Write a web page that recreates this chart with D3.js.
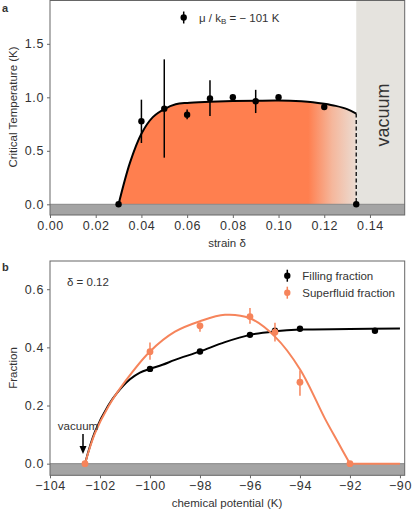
<!DOCTYPE html>
<html><head><meta charset="utf-8">
<script src="https://cdn.jsdelivr.net/npm/d3@7"></script>
<style>
body{margin:0;background:#fff;}
text{font-family:"Liberation Sans",Arial,sans-serif;fill:#333;}
</style></head>
<body><svg id="c" width="412" height="511"></svg>
<script>
// ---------- Panel a data ----------
const strainPts = [0.03, 0.04, 0.05, 0.06, 0.07, 0.08, 0.09, 0.10, 0.12, 0.134];
const tcVals    = [0.0, 0.776, 0.894, 0.838, 0.99, 1.0, 0.963, 1.0, 0.91, 0.0];
const tcErrLo   = [0, 0.573, 0.436, 0.794, 0.825, 1.0, 0.853, 1.0, 0.91, 0];
const tcErrHi   = [0, 0.978, 1.355, 0.885, 1.16, 1.0, 1.07, 1.0, 0.91, 0];
const tcCurveX  = [0.03, 0.035, 0.04, 0.045, 0.05, 0.055, 0.06, 0.07, 0.08, 0.09, 0.10, 0.11, 0.115, 0.12, 0.125, 0.13, 0.134];
const tcCurveY  = [0.0, 0.39, 0.66, 0.815, 0.89, 0.935, 0.948, 0.958, 0.965, 0.968, 0.97, 0.963, 0.955, 0.94, 0.92, 0.89, 0.848];
const strainTicks = [0.00, 0.02, 0.04, 0.06, 0.08, 0.10, 0.12, 0.14];
const tcTicks = [0.0, 0.5, 1.0, 1.5];
const vacuumStrain = 0.134;

// ---------- Panel b data ----------
const muFill   = [-100, -98, -96, -95, -94, -91];
const fillVals = [0.326, 0.386, 0.443, 0.457, 0.464, 0.457];
const muSF     = [-102.6, -100, -98, -96, -95, -94, -92];
const sfVals   = [0.0, 0.385, 0.474, 0.506, 0.452, 0.28, 0.0];
const sfErrLo  = [0.0, 0.357, 0.454, 0.481, 0.42, 0.234, 0.0];
const sfErrHi  = [0.0, 0.417, 0.485, 0.535, 0.485, 0.32, 0.0];
const fillCurveX = [-102.6, -102.2, -101.67, -101.3, -100.8, -100.4, -100, -99.5, -99, -98, -97, -96, -95, -94, -92, -90];
const fillCurveY = [0.0, 0.11, 0.2, 0.245, 0.29, 0.313, 0.326, 0.34, 0.357, 0.386, 0.418, 0.443, 0.455, 0.461, 0.463, 0.465];
const sfCurveX = [-102.6, -102.2, -101.67, -101, -100, -99, -98, -97, -96, -95, -94, -93, -92.5, -92];
const sfCurveY = [0.0, 0.105, 0.196, 0.282, 0.386, 0.454, 0.49, 0.512, 0.5, 0.437, 0.325, 0.155, 0.077, 0.0];
const sfTailX = [-92, -90];
const sfTailY = [0.0, 0.0];
const muTicks = [-104, -102, -100, -98, -96, -94, -92, -90];
const fracTicks = [0.0, 0.2, 0.4, 0.6];

const svg = d3.select("#c");
const defs = svg.append("defs");
const ORANGE = "#f6845b", FILLC = "#ff7f4f", GRAYBAND = "#a4a4a4", VAC = "#e5e3de", FRAME = "#666";
const FS = 12.5;

function minusFmt(v, dec){ const s = Math.abs(v).toFixed(dec); return (v<0?"\u2212":"") + s; }

function axes(g, x, y, xt, yt, xdec, ydec, W, H){
  const style = a=>{a.select(".domain").remove(); a.selectAll("line").attr("stroke",FRAME);
      a.selectAll("text").attr("font-size",FS).attr("fill","#333").attr("letter-spacing","0.6px").attr("font-family","Liberation Sans, Arial, sans-serif");};
  g.append("g").attr("transform",`translate(0,${H})`)
    .call(d3.axisBottom(x).tickValues(xt).tickSize(3).tickPadding(3).tickFormat(d=>minusFmt(d,xdec)))
    .call(style);
  g.append("g")
    .call(d3.axisLeft(y).tickValues(yt).tickSize(3).tickPadding(3).tickFormat(d=>minusFmt(d,ydec)))
    .call(style);
  g.append("rect").attr("width",W).attr("height",H).attr("fill","none").attr("stroke",FRAME).attr("stroke-width",1);
}

// ================= Panel a =================
{
  const L=50, T=0.5, W=354.7, H=214.5;
  const g = svg.append("g").attr("transform",`translate(${L},${T})`);
  const x = d3.scaleLinear().domain([0,0.1552]).range([0,W]);
  const y = d3.scaleLinear().domain([-0.1,1.905]).range([H,0]);

  g.append("rect").attr("x",x(vacuumStrain)).attr("y",0).attr("width",W-x(vacuumStrain)).attr("height",y(0)).attr("fill",VAC);
  const grad = defs.append("linearGradient").attr("id","tcgrad").attr("gradientUnits","userSpaceOnUse")
    .attr("x1",x(0.03)).attr("x2",x(vacuumStrain)).attr("y1",0).attr("y2",0);
  const f0 = (0.113-0.03)/(vacuumStrain-0.03);
  grad.append("stop").attr("offset",0).attr("stop-color",FILLC);
  grad.append("stop").attr("offset",f0).attr("stop-color",FILLC);
  grad.append("stop").attr("offset",f0+0.5*(1-f0)).attr("stop-color","#f5b79c");
  grad.append("stop").attr("offset",1).attr("stop-color","#ebdcd2");
  const curvePts = tcCurveX.map((v,i)=>[v,tcCurveY[i]]);
  const cv = d3.curveCatmullRom.alpha(0.5);
  g.append("path").datum(curvePts)
    .attr("d",d3.area().x(d=>x(d[0])).y0(y(0)).y1(d=>y(d[1])).curve(cv))
    .attr("fill","url(#tcgrad)");
  g.append("rect").attr("x",0).attr("y",y(0)).attr("width",W).attr("height",y(-0.1)-y(0)).attr("fill",GRAYBAND);
  g.append("line").attr("x1",0).attr("x2",W).attr("y1",y(0)).attr("y2",y(0)).attr("stroke","#888").attr("stroke-width",1);
  g.append("path").datum(curvePts)
    .attr("d",d3.line().x(d=>x(d[0])).y(d=>y(d[1])).curve(cv))
    .attr("fill","none").attr("stroke","#000").attr("stroke-width",2);
  g.append("line").attr("x1",x(vacuumStrain)).attr("x2",x(vacuumStrain))
    .attr("y1",y(tcCurveY[tcCurveY.length-1])).attr("y2",y(0))
    .attr("stroke","#222").attr("stroke-width",1.5).attr("stroke-dasharray","4,2.5");
  strainPts.forEach((s,i)=>{
    if (tcErrHi[i]>tcErrLo[i]) g.append("line").attr("x1",x(s)).attr("x2",x(s)).attr("y1",y(tcErrLo[i])).attr("y2",y(tcErrHi[i])).attr("stroke","#000").attr("stroke-width",1.5);
    g.append("circle").attr("cx",x(s)).attr("cy",y(tcVals[i])).attr("r",3.2).attr("fill","#000");
  });
  axes(g,x,y,strainTicks,tcTicks,2,1,W,H);
  g.append("text").attr("transform",`translate(${389-L},${114.5}) rotate(-90)`).attr("text-anchor","middle")
    .attr("font-size",18).attr("fill","#222").text("vacuum");
  g.append("line").attr("x1",183.7-L).attr("x2",183.7-L).attr("y1",11).attr("y2",23).attr("stroke","#000").attr("stroke-width",1.5);
  g.append("circle").attr("cx",183.7-L).attr("cy",17).attr("r",3.2).attr("fill","#000");
  const lt = g.append("text").attr("x",199-L).attr("y",21).attr("font-size",11.5).attr("fill","#333");
  lt.append("tspan").text("\u03bc / k");
  lt.append("tspan").attr("font-size",8).attr("dy",2).text("B");
  lt.append("tspan").attr("dy",-2).text(" = \u2212 101 K");
  svg.append("text").attr("transform",`translate(17,${107}) rotate(-90)`).attr("text-anchor","middle")
    .attr("font-size",11.5).text("Critical Temperature (K)");
  svg.append("text").attr("x",227).attr("y",247).attr("text-anchor","middle").attr("font-size",11.5).text("strain \u03b4");
  svg.append("text").attr("x",2).attr("y",12).attr("font-size",11).attr("font-weight","bold").attr("fill","#000").text("a");
}

// ================= Panel b =================
{
  const L=50, T=261, W=354.7, H=214.3;
  const g = svg.append("g").attr("transform",`translate(${L},${T})`);
  const x = d3.scaleLinear().domain([-104,-89.81]).range([0,W]);
  const y = d3.scaleLinear().domain([-0.04,0.697]).range([H,0]);

  g.append("rect").attr("x",0).attr("y",y(0)).attr("width",W).attr("height",y(-0.04)-y(0)).attr("fill",GRAYBAND);
  g.append("line").attr("x1",0).attr("x2",W).attr("y1",y(0)).attr("y2",y(0)).attr("stroke","#888").attr("stroke-width",1);

  const line = d3.line().x(d=>x(d[0])).y(d=>y(d[1])).curve(d3.curveCatmullRom.alpha(0.5));
  g.append("path").datum(fillCurveX.map((v,i)=>[v,fillCurveY[i]])).attr("d",line)
    .attr("fill","none").attr("stroke","#000").attr("stroke-width",2);
  g.append("path").datum(sfCurveX.map((v,i)=>[v,sfCurveY[i]])).attr("d",line)
    .attr("fill","none").attr("stroke",ORANGE).attr("stroke-width",2);
  g.append("path").datum(sfTailX.map((v,i)=>[v,sfTailY[i]])).attr("d",d3.line().x(d=>x(d[0])).y(d=>y(d[1])))
    .attr("fill","none").attr("stroke",ORANGE).attr("stroke-width",2);

  muFill.forEach((m,i)=>{
    g.append("circle").attr("cx",x(m)).attr("cy",y(fillVals[i])).attr("r",3.2).attr("fill","#000");
  });
  muSF.forEach((m,i)=>{
    if (sfErrHi[i]>sfErrLo[i]) g.append("line").attr("x1",x(m)).attr("x2",x(m)).attr("y1",y(sfErrLo[i])).attr("y2",y(sfErrHi[i])).attr("stroke",ORANGE).attr("stroke-width",1.5);
    g.append("circle").attr("cx",x(m)).attr("cy",y(sfVals[i])).attr("r",3.4).attr("fill",ORANGE);
  });
  axes(g,x,y,muTicks,fracTicks,0,1,W,H);

  g.append("text").attr("x",67-L).attr("y",286-T).attr("font-size",11.5).attr("fill","#333").text("\u03b4 = 0.12");
  [["#000","Filling fraction",275.7],[ORANGE,"Superfluid fraction",292.7]].forEach(([c,t,yy])=>{
    g.append("line").attr("x1",287.3-L).attr("x2",287.3-L).attr("y1",yy-T-6).attr("y2",yy-T+6).attr("stroke",c).attr("stroke-width",1.5);
    g.append("circle").attr("cx",287.3-L).attr("cy",yy-T).attr("r",3.2).attr("fill",c);
    g.append("text").attr("x",302.3-L).attr("y",yy-T+4).attr("font-size",11.5).attr("fill","#333").text(t);
  });
  g.append("text").attr("x",78-L).attr("y",430-T).attr("text-anchor","middle").attr("font-size",11.5).attr("fill","#222").text("vacuum");
  g.append("line").attr("x1",83-L).attr("x2",83-L).attr("y1",434-T).attr("y2",447-T).attr("stroke","#000").attr("stroke-width",1.5);
  g.append("path").attr("d",`M${83-L-3.5},${446-T} L${83-L+3.5},${446-T} L${83-L},${454-T} Z`).attr("fill","#000");

  svg.append("text").attr("transform",`translate(17,368) rotate(-90)`).attr("text-anchor","middle")
    .attr("font-size",11.5).text("Fraction");
  svg.append("text").attr("x",227).attr("y",507).attr("text-anchor","middle").attr("font-size",11.5).text("chemical potential (K)");
  svg.append("text").attr("x",2).attr("y",271).attr("font-size",11).attr("font-weight","bold").attr("fill","#000").text("b");
}
</script></body></html>
